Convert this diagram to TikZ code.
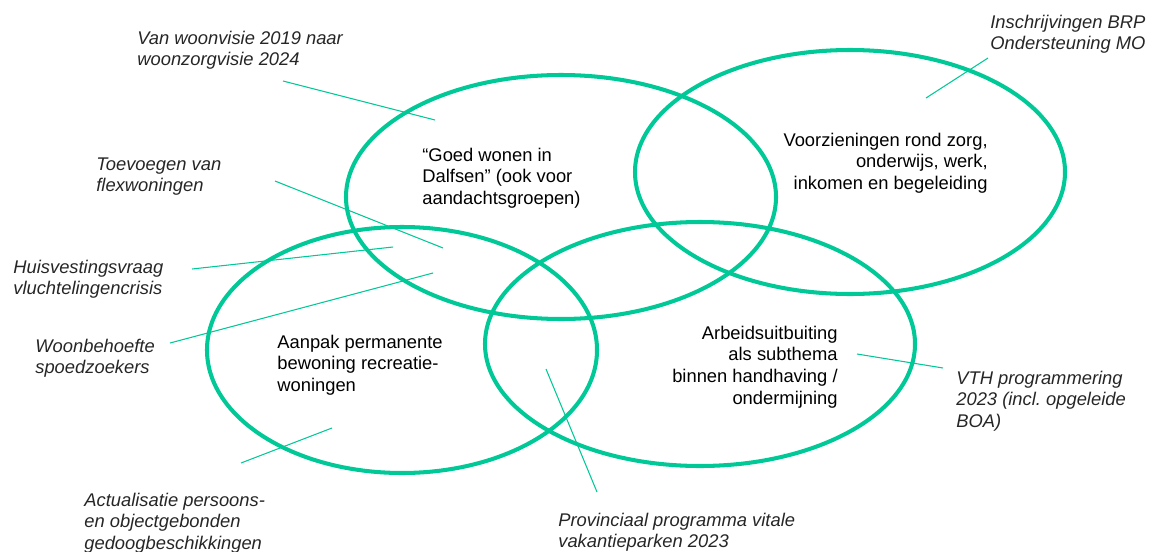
\documentclass[tikz,border=0pt]{standalone}
\usepackage{fontspec}
\setmainfont{Liberation Sans}
\definecolor{venngreen}{RGB}{0,200,150}

\begin{document}
\begin{tikzpicture}[x=0.02cm, y=-0.02cm,
    ring/.style={line width=2.3pt, color=venngreen},
    lead/.style={line width=0.6pt, color=venngreen},
    topic/.style={inner sep=0, font=\fontsize{10.45}{12.35}\selectfont, text=black},
    note/.style={inner sep=0, align=left, anchor=base west,
      font=\fontsize{10.45}{12.35}\selectfont\itshape, text=black!85}]
  \useasboundingbox (0,0) rectangle (1152,551);

  % de vier ellipsen
  \draw [ring] (561,197) ellipse [x radius=215, y radius=122];
  \draw [ring] (850,172) ellipse [x radius=215, y radius=122];
  \draw [ring] (402,350) ellipse [x radius=195, y radius=123];
  \draw [ring] (700,344) ellipse [x radius=215, y radius=122];

  % thema's in de ellipsen (base = laatste regel)
  \node [topic, align=left, anchor=base west] (wonen) at (422,204.4)
    {“Goed wonen in\\Dalfsen” (ook voor\\aandachtsgroepen)};
  \node [topic, align=right, anchor=base east] (voorz) at (988,189.4)
    {Voorzieningen rond zorg,\\onderwijs, werk,\\inkomen en begeleiding};
  \node [topic, align=left, anchor=base west] (aanpak) at (277,391.4)
    {Aanpak permanente\\bewoning recreatie-\\woningen};
  \node [topic, align=right, anchor=base east] (arbeid) at (838,404.1)
    {Arbeidsuitbuiting\\als subthema\\binnen handhaving /\\ondermijning};

  % losse labels
  \node [note] (visie) at (137,65.7) {Van woonvisie 2019 naar\\woonzorgvisie 2024};
  \node [note] (brp) at (990,49.7) {Inschrijvingen BRP\\Ondersteuning MO};
  \node [note] (flex) at (96,191.7) {Toevoegen van\\flexwoningen};
  \node [note] (vlucht) at (13,294.7) {Huisvestingsvraag\\vluchtelingencrisis};
  \node [note] (spoed) at (35,373.7) {Woonbehoefte\\spoedzoekers};
  \node [note] (gedoog) at (84,549.4) {Actualisatie persoons-\\en objectgebonden\\gedoogbeschikkingen};
  \node [note] (vitaal) at (558,547.7) {Provinciaal programma vitale\\vakantieparken 2023};
  \node [note] (vth) at (956,427.4) {VTH programmering\\2023 (incl.\ opgeleide\\BOA)};

  % eindpunten van de lijntjes
  \coordinate (visie-a) at (283,81);   \coordinate (visie-b) at (435,120);
  \coordinate (brp-a) at (988,58);     \coordinate (brp-b) at (926,98);
  \coordinate (flex-a) at (275,181);   \coordinate (flex-b) at (443,248);
  \coordinate (vlucht-a) at (192,269); \coordinate (vlucht-b) at (393,247);
  \coordinate (spoed-a) at (170,343);  \coordinate (spoed-b) at (433,273);
  \coordinate (gedoog-a) at (241,463); \coordinate (gedoog-b) at (332,428);
  \coordinate (vitaal-a) at (597,492); \coordinate (vitaal-b) at (546,369);
  \coordinate (vth-a) at (943,368);    \coordinate (vth-b) at (857,354);

  \draw [lead] (visie-a) -- (visie-b);
  \draw [lead] (brp-a) -- (brp-b);
  \draw [lead] (flex-a) -- (flex-b);
  \draw [lead] (vlucht-a) -- (vlucht-b);
  \draw [lead] (spoed-a) -- (spoed-b);
  \draw [lead] (gedoog-a) -- (gedoog-b);
  \draw [lead] (vitaal-a) -- (vitaal-b);
  \draw [lead] (vth-a) -- (vth-b);
\end{tikzpicture}
\end{document}
